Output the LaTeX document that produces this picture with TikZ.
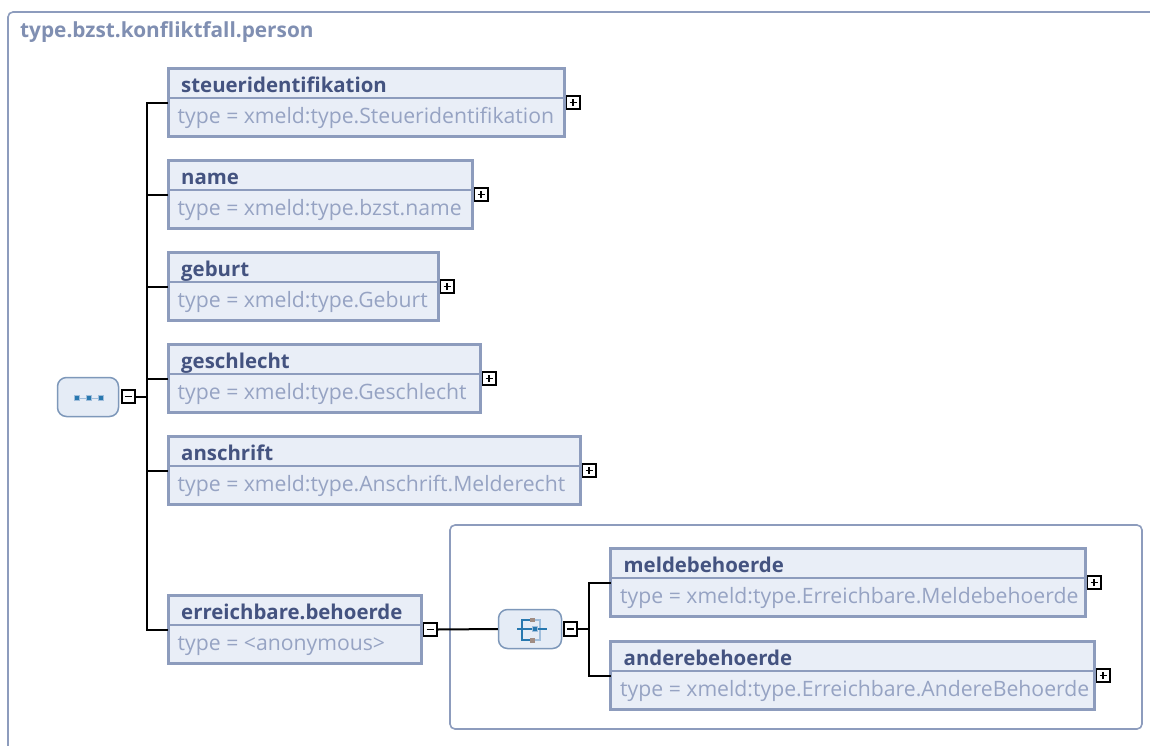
\documentclass[tikz,border=0pt]{standalone}
\usepackage{fontspec}
\setmainfont{Open Sans}
\definecolor{boxborder}{RGB}{141,156,189}
\definecolor{boxfill}{RGB}{233,238,247}
\definecolor{titlecol}{RGB}{68,83,128}
\definecolor{typecol}{RGB}{150,163,195}
\definecolor{framecol}{RGB}{141,156,189}
\definecolor{frametitle}{RGB}{128,143,178}
\definecolor{compfill}{RGB}{229,236,246}
\definecolor{compborder}{RGB}{126,152,186}
\definecolor{iconblue}{RGB}{40,120,175}
\definecolor{iconlight}{RGB}{160,190,220}
\definecolor{iconbrown}{RGB}{160,140,130}
\tikzset{
  elembox/.style={draw=boxborder, fill=boxfill, line width=3pt, rectangle, inner sep=0pt, outer sep=0pt},
  sepline/.style={draw=boxborder, line width=1.5pt},
  titlefont/.style={font=\fontsize{20.4}{24}\selectfont\bfseries, text=titlecol, inner sep=0pt},
  typefont/.style={font=\fontsize{21.2}{24}\selectfont, text=typecol, inner sep=0pt},
  pmbox/.style={draw=black, line width=1.7pt, fill=white, rectangle, minimum size=13.4pt, inner sep=0pt, outer sep=0pt},
  minusbox/.style={pmbox, path picture={\draw[line width=1.7pt] ([xshift=-3.6pt]path picture bounding box.center) -- ([xshift=3.6pt]path picture bounding box.center);}},
  plusbox/.style={pmbox, path picture={\draw[line width=1.7pt] ([xshift=-3.6pt]path picture bounding box.center) -- ([xshift=3.6pt]path picture bounding box.center) ([yshift=-3.6pt]path picture bounding box.center) -- ([yshift=3.6pt]path picture bounding box.center);}},
  conn/.style={draw=black, line width=2pt},
  compnode/.style={draw=compborder, fill=compfill, line width=1.5pt, rounded corners=9pt, minimum width=61pt, minimum height=39pt, inner sep=0pt},
  frame/.style={draw=framecol, line width=1.6pt, rounded corners=5pt}
}
% #1 name, #2 left, #3 top, #4 right, #5 title, #6 type, #7 pm style
\newcommand\elem[7]{%
  \pgfmathsetmacro\elemw{#4-#2-3}%
  \node[elembox, minimum width=\elemw pt, minimum height=68pt, anchor=north west] (#1) at ({#2+1.5},{#3+1.5}) {};
  \draw[sepline] ([yshift=-29.5pt]#1.north west) -- ([yshift=-29.5pt]#1.north east);
  \node[titlefont, anchor=base west] (#1-title) at ([xshift=13pt,yshift=-23.5pt]#1.north west) {#5};
  \node[typefont, anchor=base west] (#1-type) at ([xshift=9.5pt,yshift=-54.5pt]#1.north west) {#6};
  \node[#7, anchor=west] (#1-pm) at ([xshift=2pt]#1.east) {};
}
\begin{document}
\begin{tikzpicture}[x=1pt,y=-1pt]
\useasboundingbox (0,0) rectangle (1150,745);
\clip (0,0) rectangle (1150,745);
\fill[white] (0,0) rectangle (1150,745);
% outer frame
\draw[frame] (8,770) -- (8,12) -- (1170,12);
\node[font=\fontsize{20.8}{24}\selectfont\bfseries, text=frametitle, anchor=base west, inner sep=0pt] (frametitle) at (20,37) {type.bzst.konfliktfall.person};
% inner frame
\draw[frame] (450,525) rectangle (1142,729);

% sequence compositor
\node[compnode] (seq) at (88,397) {};
\draw[iconlight, line width=0.9pt] (77,398) -- (101,398);
\foreach \dx in {-12,0,12} {
  \fill[iconlight] (89+\dx-3,398-3) rectangle (89+\dx+3,398+3);
  \fill[iconblue] (89+\dx-2,398-2) rectangle (89+\dx+2,398+2);
}
\node[minusbox] (seq-pm) at (128.5,396.5) {};

% elements
\elem{steuer}{166.5}{67}{566}{steueridentifikation}{type = xmeld:type.Steueridentifikation}{plusbox}
\elem{name}{166.5}{159}{474}{name}{type = xmeld:type.bzst.name}{plusbox}
\elem{geburt}{166.5}{251}{440}{geburt}{type = xmeld:type.Geburt}{plusbox}
\elem{geschlecht}{166.5}{343}{482}{geschlecht}{type = xmeld:type.Geschlecht}{plusbox}
\elem{anschrift}{166.5}{435}{582}{anschrift}{type = xmeld:type.Anschrift.Melderecht}{plusbox}
\elem{erreich}{166.5}{594}{423}{erreichbare.behoerde}{type = <anonymous>}{minusbox}

% choice compositor
\node[compnode, minimum width=63pt] (choice) at (530,629) {};
\draw[iconlight, line width=1.3pt] (532,620) -- (540,620) -- (540,640) -- (532,640);
\draw[iconblue, line width=1.3pt] (532,620) -- (522,620) -- (522,640) -- (532,640);
\draw[iconblue, line width=1.3pt] (517,629) -- (547,629);
\fill[iconbrown] (530,617.5) rectangle (534.5,622);
\fill[iconbrown] (530,638) rectangle (534.5,642.5);
\fill[iconlight] (532,626) rectangle (538,632);
\fill[iconblue] (533,627) rectangle (537,631);
\node[minusbox] (choice-pm) at (570.5,629) {};

\elem{melde}{609}{547}{1087}{meldebehoerde}{type = xmeld:type.Erreichbare.Meldebehoerde}{plusbox}
\elem{andere}{609}{640}{1096}{anderebehoerde}{type = xmeld:type.Erreichbare.AndereBehoerde}{plusbox}

% connectors
\coordinate (bus) at (147,0);
\coordinate (cbus) at (589,0);
\draw[conn] (seq-pm.east) -- (seq-pm.east -| bus);
\draw[conn] (steuer.west) -- (steuer.west -| bus) -- (erreich.west -| bus) -- (erreich.west);
\foreach \n in {name,geburt,geschlecht,anschrift} \draw[conn] (\n.west) -- (\n.west -| bus);
\draw[conn] (erreich-pm.east) -- (choice.west);
\draw[conn] (choice-pm.east) -- (choice-pm.east -| cbus);
\draw[conn] (melde.west) -- (melde.west -| cbus) -- (andere.west -| cbus) -- (andere.west);
\end{tikzpicture}
\end{document}
